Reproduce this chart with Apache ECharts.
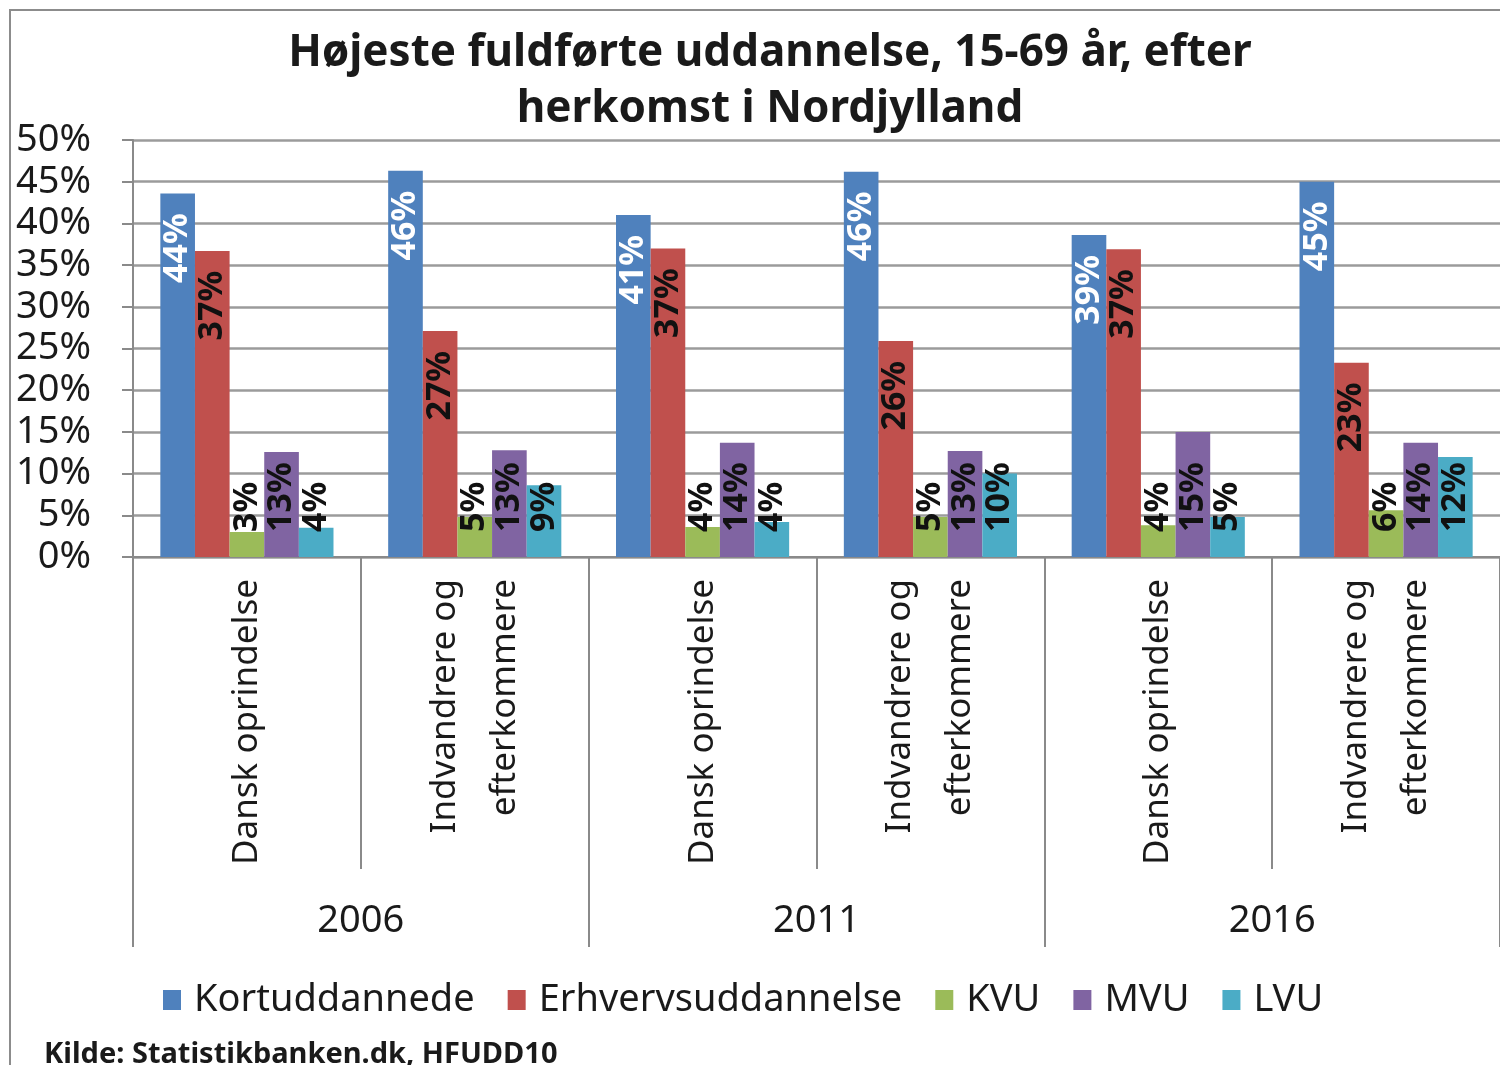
<!DOCTYPE html>
<html>
<head>
<meta charset="utf-8">
<script src="https://cdn.jsdelivr.net/npm/echarts@6/dist/echarts.min.js"></script>
<style>
  html, body { margin: 0; padding: 0; background: #fff; }
  #container { width: 1500px; height: 1065px; }
</style>
</head>
<body>
<div id="container"></div>
<script>
// data (percent)
const categories = ['Dansk oprindelse', 'Indvandrere og\nefterkommere',
                    'Dansk oprindelse', 'Indvandrere og\nefterkommere',
                    'Dansk oprindelse', 'Indvandrere og\nefterkommere'];
const years = ['2006', '2011', '2016'];
const seriesNames = ['Kortuddannede', 'Erhvervsuddannelse', 'KVU', 'MVU', 'LVU'];
const kortuddannede = [43.6, 46.3, 41.0, 46.2, 38.6, 45.0];
const erhverv = [36.7, 27.1, 37.0, 25.9, 36.9, 23.3];
const kvu = [3.0, 4.8, 3.6, 4.8, 3.8, 5.6];
const mvu = [12.6, 12.8, 13.7, 12.7, 15.0, 13.7];
const lvu = [3.5, 8.6, 4.2, 10.0, 4.8, 12.0];
const colors = ['#4F81BD', '#C0504D', '#9BBB59', '#8064A2', '#4BACC6'];

const font = '"Noto Sans", "DejaVu Sans", sans-serif';
const chart = echarts.init(document.getElementById('container'), null, { renderer: 'canvas' });

// short bars get their label pushed up from the axis, tall ones hang from the top
function barData(values) {
    return values.map(v => {
        const small = v < 20;
        return {
            value: v,
            label: small
                ? { position: 'insideBottom', align: 'left', distance: 25 }
                : { position: 'insideTop', align: 'right', distance: 20 }
        };
    });
}

const allValues = [kortuddannede, erhverv, kvu, mvu, lvu];

const series = allValues.map((vals, i) => ({
    name: seriesNames[i],
    type: 'bar',
    barGap: '0%',
    barCategoryGap: '24%',
    itemStyle: { color: colors[i] },
    label: {
        show: true,
        rotate: 90,
        verticalAlign: 'middle',
        fontFamily: font,
        fontWeight: 'bold',
        fontSize: 34,
        color: i === 0 ? '#fff' : '#111',
        formatter: p => Math.round(p.value) + '%'
    },
    data: barData(vals)
}));

const option = {
    animation: false,
    title: {
        text: 'Højeste fuldførte uddannelse, 15-69 år, efter\nherkomst i Nordjylland',
        left: 765,
        top: 20,
        textAlign: 'center',
        textStyle: { fontFamily: font, fontWeight: 'bold', fontSize: 44, lineHeight: 56, color: '#1a1a1a' }
    },
    legend: {
        data: seriesNames,
        left: 158,
        top: 976,
        icon: 'rect',
        itemWidth: 18,
        itemHeight: 20,
        itemGap: 33,
        textStyle: { fontFamily: font, fontSize: 38, color: '#1a1a1a', padding: [0, 0, 0, 8] }
    },
    grid: { left: 133, right: -4, top: 140, bottom: 508, containLabel: false },
    xAxis: [
        {
            type: 'category',
            data: categories,
            axisLine: { lineStyle: { color: '#8a8a8a', width: 2 } },
            axisTick: { show: true, interval: 0, length: 312, lineStyle: { color: '#8a8a8a', width: 2 } },
            axisLabel: {
                interval: 0, rotate: 90, margin: 22,
                fontFamily: font, fontSize: 35, lineHeight: 60, color: '#1a1a1a'
            }
        },
        {
            type: 'category',
            data: years,
            position: 'bottom',
            axisLine: { show: false },
            axisTick: { show: true, interval: 0, length: 390, lineStyle: { color: '#8a8a8a', width: 2 } },
            axisLabel: { interval: 0, margin: 345, fontFamily: font, fontSize: 38, color: '#1a1a1a' }
        }
    ],
    yAxis: {
        type: 'value',
        min: 0,
        max: 50,
        interval: 5,
        axisLine: { show: true, lineStyle: { color: '#8a8a8a', width: 2 } },
        axisTick: { show: true, length: 11, lineStyle: { color: '#8a8a8a', width: 2 } },
        splitLine: { lineStyle: { color: '#9b9b9b', width: 2.5 } },
        axisLabel: { formatter: '{value}%', margin: 42, fontFamily: font, fontSize: 38, color: '#1a1a1a' }
    },
    graphic: [
        {
            type: 'rect',
            shape: { x: 10, y: 10, width: 1520, height: 1100 },
            style: { fill: 'none', stroke: '#8c8c8c', lineWidth: 2 },
            silent: true
        },
        {
            type: 'text',
            left: 44,
            top: 1040,
            style: { text: 'Kilde: Statistikbanken.dk, HFUDD10', fontFamily: font, fontWeight: 'bold', fontSize: 29, fill: '#1a1a1a' }
        }
    ],
    series: series
};

chart.setOption(option);
window.addEventListener('resize', () => chart.resize());
</script>
</body>
</html>
